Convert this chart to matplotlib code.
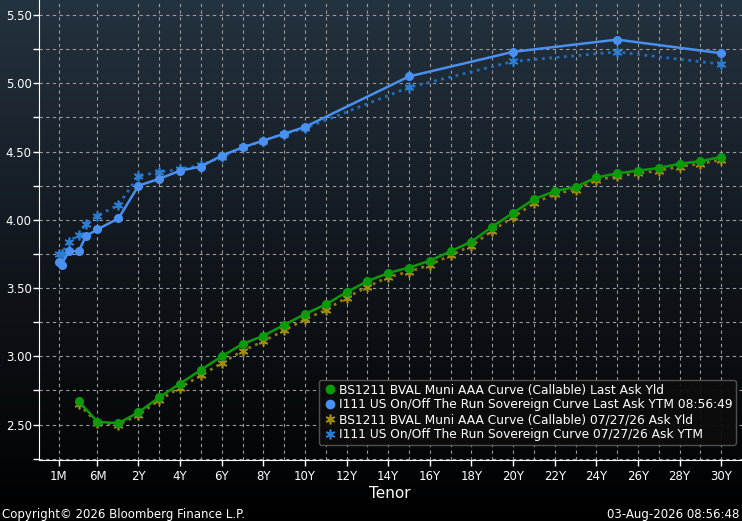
import numpy as np
import matplotlib
matplotlib.use("Agg")
import matplotlib.pyplot as plt
from matplotlib.lines import Line2D
from matplotlib.colors import LinearSegmentedColormap

# tenors in years
t_blue = [1/12, 1.4/12, 2.3/12, 3.6/12, 4.5/12, 0.5, 1, 2, 3, 4, 5, 6, 7, 8, 9, 10, 15, 20, 25, 30]
blue_last = [3.69, 3.67, 3.77, 3.77, 3.88, 3.93, 4.01, 4.25, 4.30, 4.36, 4.39, 4.47, 4.53, 4.58, 4.63, 4.68, 5.05, 5.23, 5.32, 5.22]
blue_prev = [3.75, 3.75, 3.84, 3.89, 3.97, 4.03, 4.11, 4.32, 4.35, 4.37, 4.40, 4.46, 4.53, 4.58, 4.63, 4.67, 4.97, 5.16, 5.23, 5.14]

t_green = [3.6/12, 0.5, 1] + list(range(2, 31))
green_last = [2.67, 2.52, 2.51, 2.59, 2.70, 2.80, 2.90, 3.00, 3.09, 3.15, 3.23, 3.31, 3.38, 3.47, 3.55, 3.61,
              3.65, 3.70, 3.77, 3.84, 3.95, 4.05, 4.15, 4.21, 4.24, 4.31, 4.34, 4.36, 4.38, 4.41, 4.43, 4.46]
green_prev = [2.65, 2.51, 2.50, 2.57, 2.68, 2.77, 2.86, 2.95, 3.04, 3.11, 3.19, 3.27, 3.34, 3.43, 3.51, 3.58,
              3.62, 3.67, 3.74, 3.81, 3.92, 4.02, 4.12, 4.19, 4.22, 4.29, 4.32, 4.34, 4.36, 4.39, 4.41, 4.44]

tick_tenors = [1/12, 0.5] + list(range(2, 31, 2))
tick_labels = ["1M", "6M"] + [f"{y}Y" for y in range(2, 31, 2)]

labels = ["BS1211 BVAL Muni AAA Curve (Callable) Last Ask Yld",
          "I111 US On/Off The Run Sovereign Curve Last Ask YTM 08:56:49",
          "BS1211 BVAL Muni AAA Curve (Callable) 07/27/26 Ask Yld",
          "I111 US On/Off The Run Sovereign Curve 07/27/26 Ask YTM"]

# tenor axis: short end compressed
def pos(t):
    return np.interp(np.asarray(t, float), [1/12, 0.5, 1, 2, 30], [-1.84, 0.03, 1.04, 2, 30])

ast = (6, 2, 0)

fig = plt.figure(figsize=(7.42, 5.21), dpi=100)
bg = fig.add_axes([0, 0, 1, 1])
grad = np.linspace(0, 1, 256).reshape(-1, 1)
cm = LinearSegmentedColormap.from_list("bb", ["#243340", "#11161c", "#000000"])
bg.imshow(grad, aspect="auto", cmap=cm, extent=[0, 1, 0, 1])
bg.axis("off")

ax = fig.add_axes([0.052, 0.117, 0.948, 0.883])
ax.patch.set_alpha(0)
ax.set_xlim(-2.8, 31)
ax.set_ylim(2.24, 5.61)

ax.plot(pos(t_blue), blue_prev, ls=":", lw=2, color="#1f6fc0", marker=ast, ms=7, mec="#2a7fd4", mew=1.2)
ax.plot(pos(t_green), green_prev, ls=":", lw=2, color="#8a7a10", marker=ast, ms=7, mec="#a08d12", mew=1.2)
ax.plot(pos(t_blue), blue_last, "-", lw=1.8, color="#4a90f0", marker="o", ms=5.5)
ax.plot(pos(t_green), green_last, "-", lw=1.8, color="#0a9a0a", marker="o", ms=5.5)

ax.set_yticks(np.arange(2.5, 5.51, 0.5))
ax.set_yticks(np.arange(2.25, 5.6, 0.25), minor=True)
ax.set_yticklabels([f"{v:.2f}" for v in np.arange(2.5, 5.51, 0.5)])
ax.set_xticks(pos(tick_tenors))
ax.set_xticklabels(tick_labels)
ax.set_xticks(pos(list(range(3, 30, 2))), minor=True)
ax.grid(True, which="both", color="#9a9a9a", ls=(0, (3, 3)), lw=0.8)
ax.tick_params(colors="white", labelsize=8.5, which="both", length=4, width=1, pad=1)
ax.tick_params(axis="x", which="minor", length=0)
ax.tick_params(axis="x", pad=3)
for s in ["top", "right"]:
    ax.spines[s].set_visible(False)
for s in ["left", "bottom"]:
    ax.spines[s].set_color("white")
ax.set_xlabel("Tenor", color="white", fontsize=11, labelpad=2)

handles = [Line2D([], [], ls="", marker="o", color="#0a9a0a", ms=6),
           Line2D([], [], ls="", marker="o", color="#4a90f0", ms=6),
           Line2D([], [], ls="", marker=ast, color="#a08d12", ms=7, mew=1.2),
           Line2D([], [], ls="", marker=ast, color="#2a7fd4", ms=7, mew=1.2)]
leg = ax.legend(handles, labels, loc="lower right", fontsize=8.8, frameon=True, facecolor="#0d0d0d",
                edgecolor="#555555", labelcolor="white", handletextpad=0.1, borderpad=0.3,
                labelspacing=0.15, handlelength=1.2, bbox_to_anchor=(1.0, 0.02))
leg.get_frame().set_alpha(0.95)

fig.text(0.003, 0.005, "Copyright\u00a9 2026 Bloomberg Finance L.P.", color="white", fontsize=8.5)
fig.text(0.997, 0.005, "03-Aug-2026 08:56:48", color="white", fontsize=8.5, ha="right")

fig.savefig("out.png", dpi=100)
